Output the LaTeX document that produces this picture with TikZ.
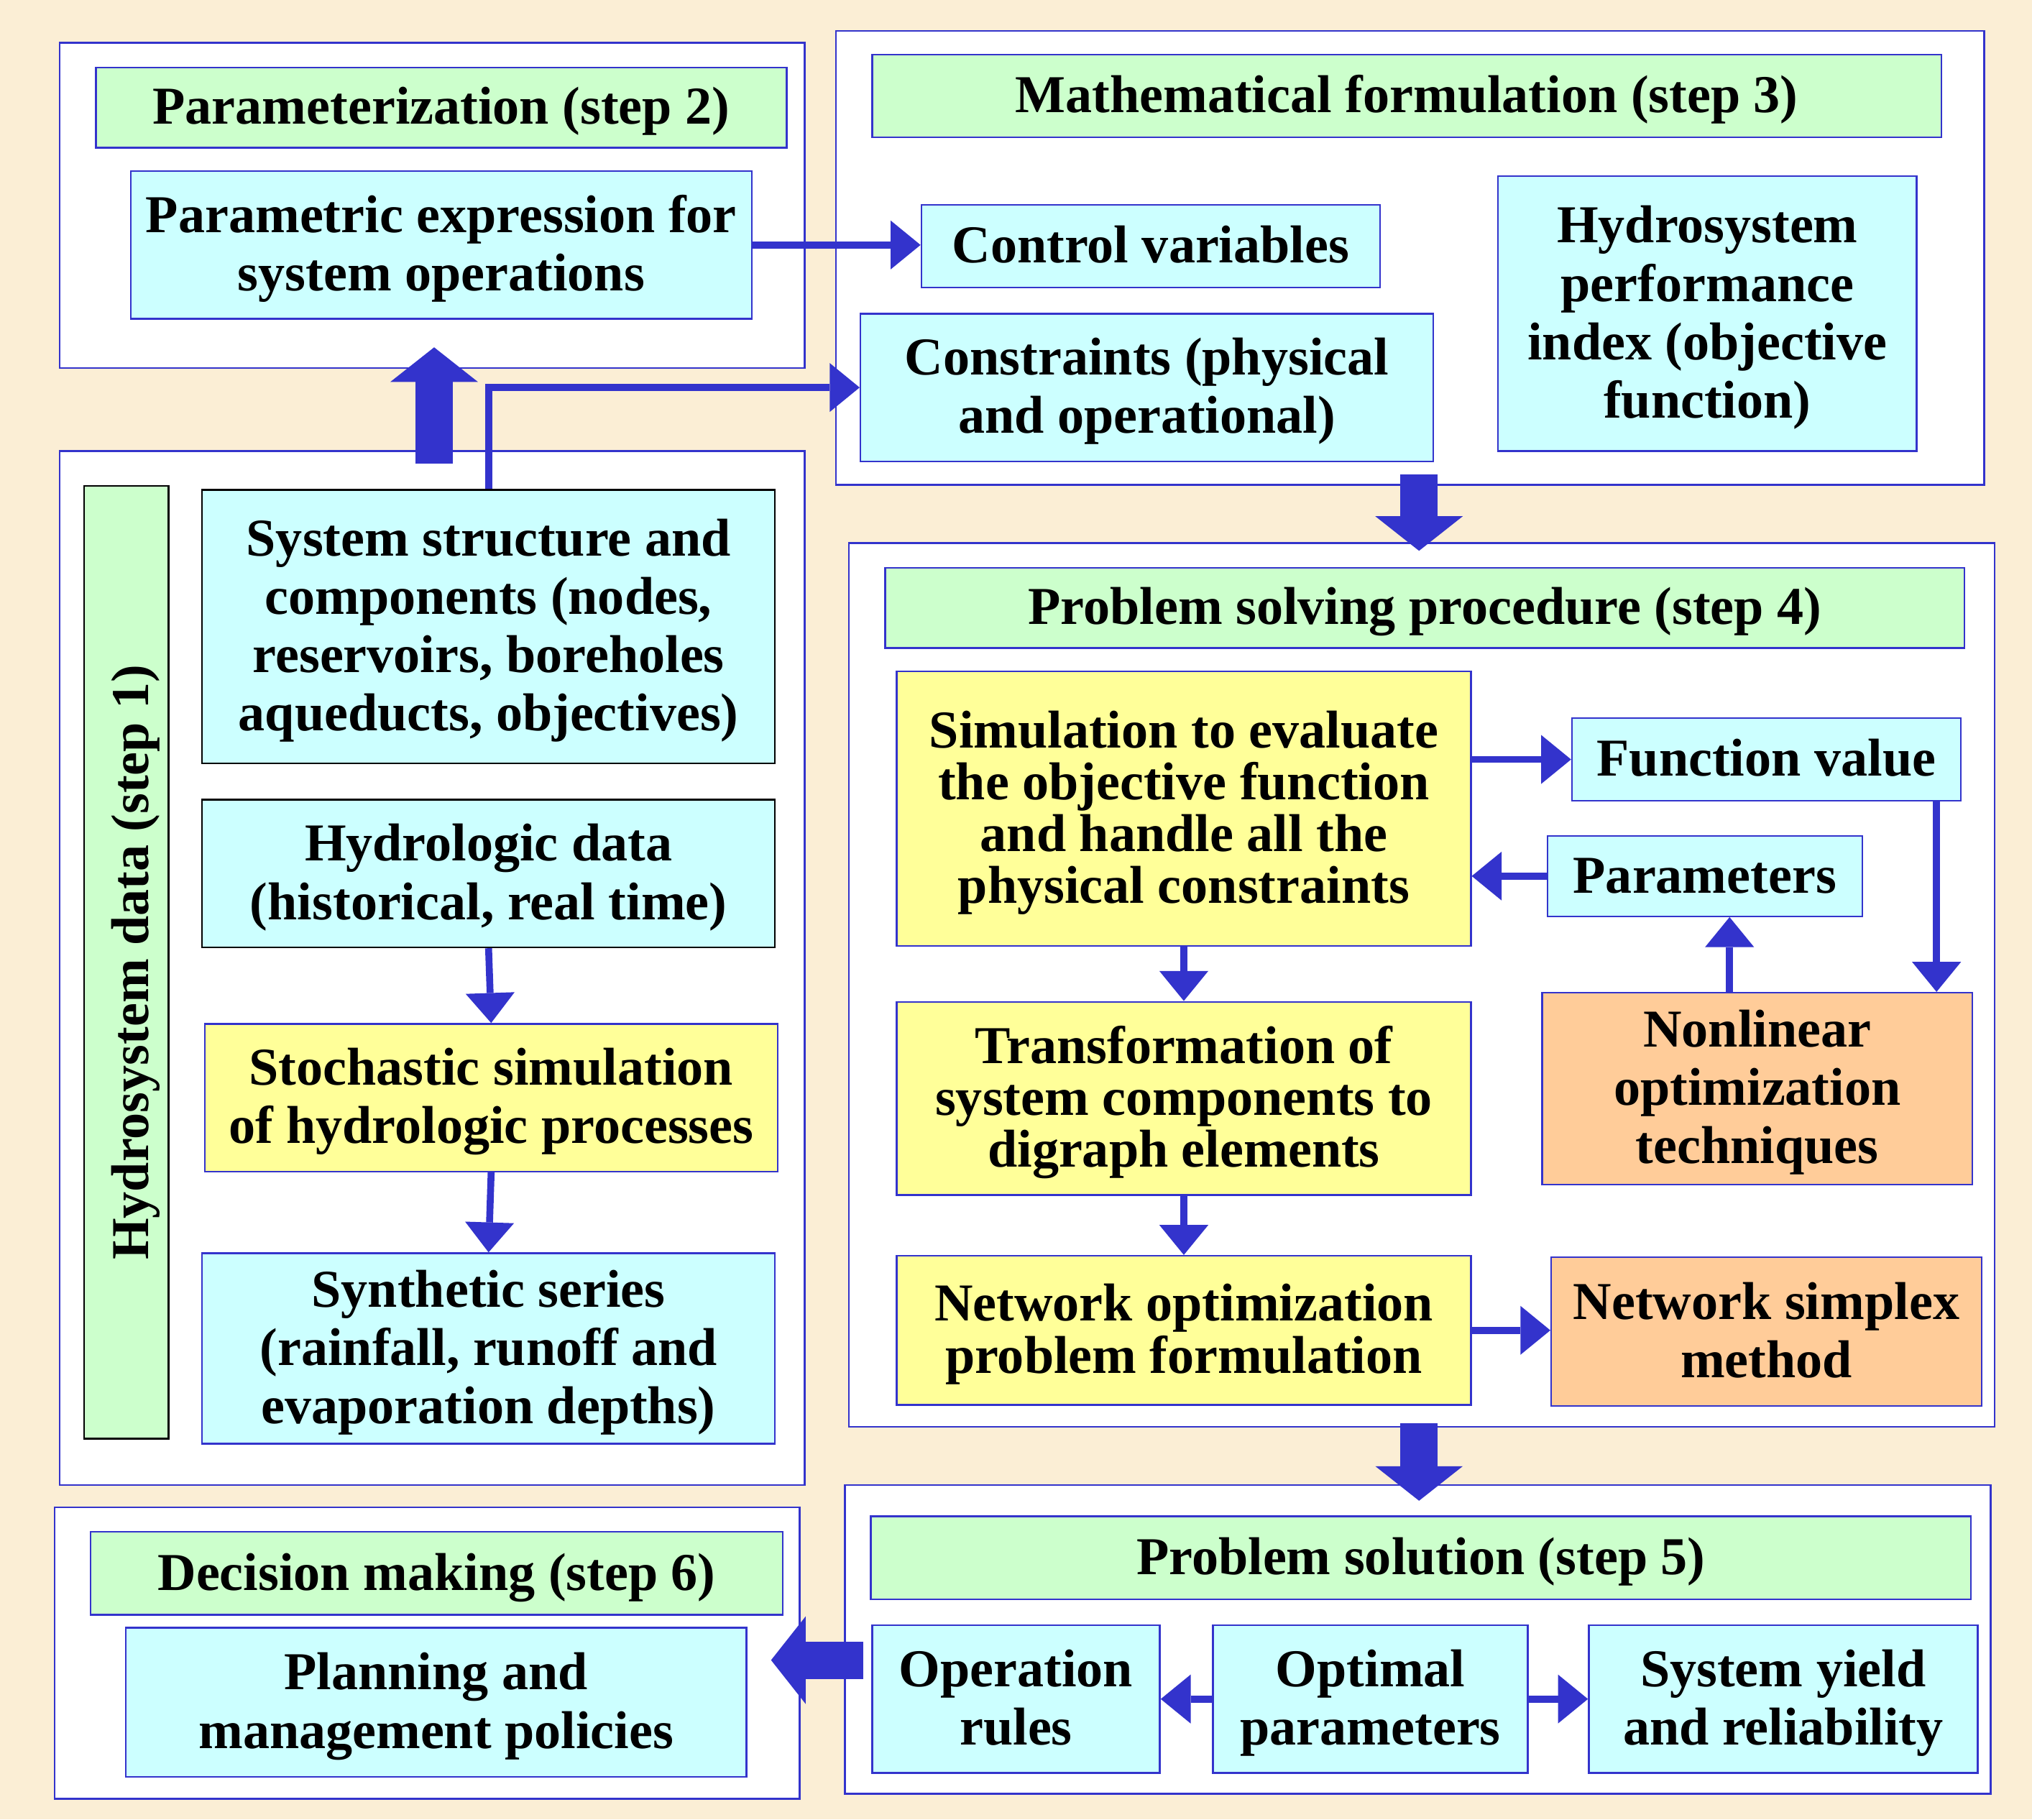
\documentclass[tikz,border=0pt]{standalone}
\usepackage{fontspec}
\setmainfont{Liberation Serif}
\usetikzlibrary{arrows.meta,calc}
\definecolor{bg}{RGB}{251,238,213}
\definecolor{lineblue}{RGB}{51,51,204}
\definecolor{cyanfill}{RGB}{204,255,255}
\definecolor{greenfill}{RGB}{204,255,204}
\definecolor{yellowfill}{RGB}{255,255,153}
\definecolor{orangefill}{RGB}{255,204,153}
\tikzset{
  base/.style={draw=lineblue, line width=0.6pt, inner sep=0pt, align=center,
    font=\bfseries\fontsize{18.5}{20.25}\selectfont},
  outerbox/.style={base, fill=white},
  titlebox/.style={base, fill=greenfill},
  cyanbox/.style={base, fill=cyanfill},
  yellowbox/.style={base, fill=yellowfill},
  tightyellow/.style={base, fill=yellowfill, font=\bfseries\fontsize{18.5}{18}\selectfont},
  orangebox/.style={base, fill=orangefill},
  blackedge/.style={draw=black},
  verticaltitle/.style={titlebox, blackedge, rotate=90},
  thinarrow/.style={draw=lineblue, line width=2.4pt,
    -{Triangle[length=10.4pt,width=17pt,line width=0pt]}},
  bigarrow/.style={draw=lineblue, line width=13pt,
    -{Triangle[length=12pt,width=30.4pt,line width=0pt]}},
}
\newcommand\topstrut{\rule{0pt}{16.6pt}}
\newcommand\botstrut{\rule[-5pt]{0pt}{0pt}}
\newcommand\mybox[7]{\node[#1, minimum width={((#5)-(#3))*0.45pt},
  minimum height={((#6)-(#4))*0.45pt}] (#2) at ({((#3)+(#5))/2},{((#4)+(#6))/2}) {\topstrut#7\botstrut};}
\begin{document}
\begin{tikzpicture}[x=0.45pt, y=-0.45pt]
\fill[bg] (0,0) rectangle (1568,1404);
\useasboundingbox (0,0) rectangle (1568,1404);

% outer containers
\mybox{outerbox}{s2}{46}{33}{621}{284}{}
\mybox{outerbox}{s3}{645}{24}{1531}{374}{}
\mybox{outerbox}{s1}{46}{348}{621}{1146}{}
\mybox{outerbox}{s4}{655}{419}{1539}{1101}{}
\mybox{outerbox}{s5}{652}{1146}{1536}{1384}{}
\mybox{outerbox}{s6}{42}{1163}{617}{1388}{}

% big block arrows between steps
\coordinate (upA) at (335,358);
\coordinate (upB) at (335,268);
\coordinate (dnA) at (1095,366);
\coordinate (dnB) at (1095,425);
\coordinate (dn2A) at (1095,1098);
\coordinate (dn2B) at (1095,1158);
\coordinate (lfA) at (666,1281);
\coordinate (lfB) at (595,1281);
\draw[bigarrow] (upA) -- (upB);
\draw[bigarrow] (dnA) -- (dnB);
\draw[bigarrow] (dn2A) -- (dn2B);
\draw[bigarrow] (lfA) -- (lfB);

% step 2
\mybox{titlebox}{t2}{74}{52}{607}{114}{Parameterization (step 2)}
\mybox{cyanbox}{param}{101}{132}{580}{246}{Parametric expression for\\system operations}

% step 3
\mybox{titlebox}{t3}{673}{42}{1498}{106}{Mathematical formulation (step 3)}
\mybox{cyanbox}{ctrl}{711}{158}{1065}{222}{Control variables}
\mybox{cyanbox}{cons}{664}{242}{1106}{356}{Constraints (physical\\and operational)}
\mybox{cyanbox}{hpi}{1156}{136}{1479}{348}{Hydrosystem\\performance\\index (objective\\function)}

% step 1
\node[verticaltitle, minimum width={735*0.45pt},
  minimum height={65*0.45pt}] (s1title) at (97.5,742.5)
  {\rule{0pt}{20.5pt}Hydrosystem data (step 1)\rule[-5pt]{0pt}{0pt}};
\mybox{cyanbox,blackedge}{sys}{156}{378}{598}{589}{System structure and\\components (nodes,\\reservoirs, boreholes\\aqueducts, objectives)}
\mybox{cyanbox,blackedge}{hydro}{156}{617}{598}{731}{Hydrologic data\\(historical, real time)}
\mybox{yellowbox}{stoch}{158}{790}{600}{904}{Stochastic simulation\\of hydrologic processes}
\mybox{cyanbox}{synth}{156}{967}{598}{1114}{Synthetic series\\(rainfall, runoff and\\evaporation depths)}

% step 4
\mybox{titlebox}{t4}{683}{438}{1516}{500}{Problem solving procedure (step 4)}
\mybox{tightyellow}{sim}{692}{518}{1135}{730}{Simulation to evaluate\\the objective function\\and handle all the\\physical constraints}
\mybox{cyanbox}{func}{1213}{554}{1513}{618}{Function value}
\mybox{cyanbox}{params}{1194}{645}{1437}{707}{Parameters}
\mybox{tightyellow}{trans}{692}{773}{1135}{922}{Transformation of\\system components to\\digraph elements}
\mybox{orangebox}{nonlin}{1190}{766}{1522}{914}{Nonlinear\\optimization\\techniques}
\mybox{tightyellow}{netopt}{692}{969}{1135}{1084}{Network optimization\\problem formulation}
\mybox{orangebox}{simplex}{1197}{970}{1529}{1085}{Network simplex\\method}

% step 5
\mybox{titlebox}{t5}{672}{1170}{1521}{1234}{Problem solution (step 5)}
\mybox{cyanbox}{oper}{673}{1254}{895}{1368}{Operation\\rules}
\mybox{cyanbox}{optp}{936}{1254}{1179}{1368}{Optimal\\parameters}
\mybox{cyanbox}{yield}{1226}{1254}{1526}{1368}{System yield\\and reliability}

% step 6
\mybox{titlebox}{t6}{70}{1182}{604}{1246}{Decision making (step 6)}
\mybox{cyanbox}{plan}{97}{1256}{576}{1371}{Planning and\\management policies}

% thin connectors
\draw[thinarrow] (param.east) -- (param.east -| ctrl.west);
\draw[thinarrow] (sys.north) |- (cons.west);
\draw[thinarrow] (hydro.south) -- (stoch.north);
\draw[thinarrow] (stoch.south) -- (synth.north);
\draw[thinarrow] (func.west -| sim.east) -- (func.west);
\draw[thinarrow] (params.west) -- (params.west -| sim.east);
\coordinate (fvdown) at ([xshift=-8.7pt]func.south east);
\draw[thinarrow] (fvdown) -- (fvdown |- nonlin.north);
\coordinate (parup) at ([xshift=8.6pt]params.south);
\draw[thinarrow] (parup |- nonlin.north) -- (parup);
\draw[thinarrow] (sim.south) -- (trans.north);
\draw[thinarrow] (trans.south) -- (netopt.north);
\draw[thinarrow] (netopt.east) -- (netopt.east -| simplex.west);
\draw[thinarrow] (optp.west) -- (oper.east);
\draw[thinarrow] (optp.east) -- (yield.west);
\end{tikzpicture}
\end{document}
